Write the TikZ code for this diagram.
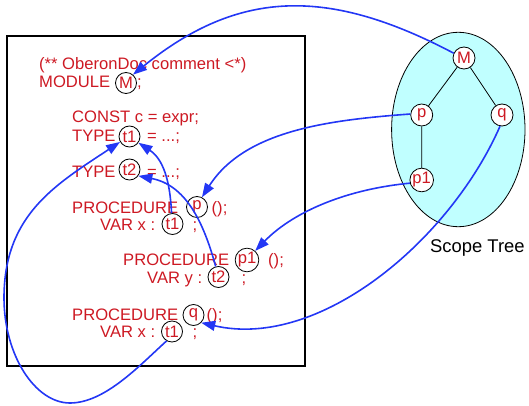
\documentclass[tikz,border=0pt]{standalone}
\usepackage{fontspec}
\setmainfont{Liberation Sans}
\usetikzlibrary{arrows.meta}
\definecolor{codered}{RGB}{205,25,35}
\definecolor{linkblue}{RGB}{35,55,245}
\definecolor{scopecyan}{RGB}{192,255,255}
\tikzset{
	codetext/.style={anchor=base west,inner sep=0pt,text=codered,font=\fontsize{16.6}{18}\selectfont},
	refmark/.style={circle,draw=black,line width=.8pt,minimum size=21pt,inner sep=0pt,text=codered,font=\fontsize{16.6}{18}\selectfont},
	treenode/.style={refmark,fill=white,minimum size=22pt},
	link/.style={draw=linkblue,line width=1.6pt,-{Triangle[length=14pt,width=10pt]}}
}
\begin{document}
\begin{tikzpicture}[x=1pt,y=-1pt]
				\useasboundingbox (0,0) rectangle (529,406);
				\draw [line width=1.8pt] (7,36) rectangle (305,366);
				\draw [fill=scopecyan,line width=.8pt] (458.3,129.5) ellipse [x radius=66.7,y radius=97.2];
				\node [treenode] (tM) at (464,58) {M};
				\node [treenode] (tp) at (421.7,115) {p};
				\node [treenode] (tq) at (502,115) {q};
				\node [treenode] (tp1) at (421.7,180) {p1};
				\draw [line width=.8pt] (tM)--(tp) (tM)--(tq) (tp)--(tp1);
				\node [anchor=base west,inner sep=0pt,font=\fontsize{18.4}{20}\selectfont] (scopelabel) at (430,252) {Scope Tree};
				\node [codetext] (comment) at (39,70) {(** OberonDoc comment <*)};
				\node [codetext] (module) at (39,88) {MODULE};
				\node [refmark] (cM) at (126,83) {M};
				\node [codetext] at (137,88) {;};
				\node [codetext] (const) at (72,123) {CONST c = expr;};
				\node [codetext] (type1) at (72,142) {TYPE};
				\node [refmark] (ct1) at (129.5,136.5) {t1};
				\node [codetext] at (147,142) {= ...;};
				\node [codetext] (type2) at (72,177) {TYPE};
				\node [refmark] (ct2) at (129.5,169.5) {t2};
				\node [codetext] at (147,177) {= ...;};
				\node [codetext] (procp) at (72,213) {PROCEDURE};
				\node [refmark] (cp) at (197,207) {p};
				\node [codetext] at (211.5,213) {();};
				\node [codetext] (varx1) at (100,230) {VAR x :};
				\node [refmark] (vt1) at (172.5,224) {t1};
				\node [codetext] at (192.5,230) {;};
				\node [codetext] (procp1) at (123,265) {PROCEDURE};
				\node [refmark] (cp1) at (247,260) {p1};
				\node [codetext] at (268,265) {();};
				\node [codetext] (vary) at (147,283) {VAR y :};
				\node [refmark] (vt2) at (218.5,277) {t2};
				\node [codetext] at (241.5,283) {;};
				\node [codetext] (procq) at (72,320) {PROCEDURE};
				\node [refmark] (cq) at (193.5,315) {q};
				\node [codetext] at (206.5,320) {();};
				\node [codetext] (varx2) at (100,337) {VAR x :};
				\node [refmark] (qt1) at (172,331.5) {t1};
				\node [codetext] at (192.5,337) {;};
				\coordinate (loopbottom) at (70,403);
				\coordinate (loopleft) at (4,298);
				\draw [link] (tM.155) .. controls (330,-12) and (240,-12) .. (cM.50);
				\draw [link] (tp.175) .. controls (330,120) and (245,130) .. (cp.63);
				\draw [link] (tp1.195) .. controls (340,190) and (290,215) .. (cp1.48);
				\draw [link] (tq.-100) .. controls (450,240) and (320,350) .. (cq.-45);
				\draw [link] (vt1.95) .. controls (170,180) and (163,159) .. (ct1.-35);
				\draw [link] (vt2.105) .. controls (203,220) and (185,185) .. (ct2.-36);
				\draw [link] (qt1.-120) .. controls (140,365) and (105,403) .. (loopbottom)
					.. controls (35,403) and (4,355) .. (loopleft)
					.. controls (4,215) and (55,185) .. (ct1.210);
\end{tikzpicture}
\end{document}
